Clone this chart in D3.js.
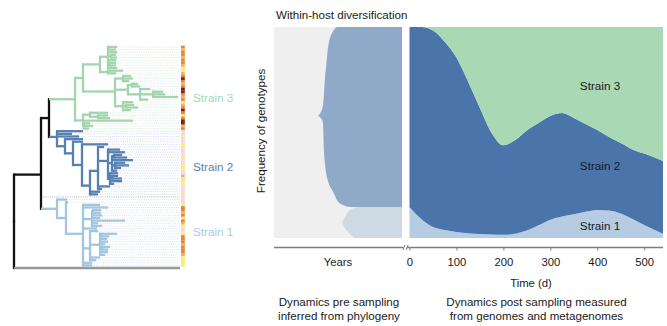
<!DOCTYPE html>
<html><head><meta charset="utf-8">
<script src="https://cdn.jsdelivr.net/npm/d3@7"></script>
<style>
html,body{margin:0;padding:0;background:#fff;}
svg{display:block;font-family:"Liberation Sans",Arial,Helvetica,sans-serif;}
</style></head><body>
<svg id="chart" width="667" height="326"></svg>
<script>
// ---------------- DATA ----------------
// Post-sampling genotype frequencies (stacked, sum = 1)
const days    = [0,25,50,75,100,125,150,175,200,225,250,275,300,325,350,375,400,425,450,475,500,540];
const strain1 = [.147,.09,.052,.038,.029,.023,.019,.016,.015,.02,.035,.06,.087,.102,.113,.124,.133,.13,.116,.09,.062,.02];
const strain2 = [.853,.91,.932,.892,.826,.717,.597,.482,.425,.444,.475,.485,.491,.49,.456,.416,.379,.349,.334,.33,.338,.345];
const strain3 = [0,0,.016,.07,.145,.26,.384,.502,.56,.536,.49,.455,.422,.408,.431,.46,.488,.521,.55,.58,.60,.635];
const dayTicks = [0,100,200,300,400,500];

// Pre-sampling envelopes inferred from phylogeny (years before sampling)
const ancTimes = [-3.94,-3.75,-3.70,-3.66,-3.61,-3.56,-3.47,-3.38,-3.28,-3.14,-3.05,-2.77,-2.44,0];
const ancLo    = [.578,.56,.54,.42,.35,.31,.27,.245,.227,.20,.18,.156,.147,.147];
const ancHi    = [.578,.61,.63,.68,.76,.81,.90,.945,.97,.993,1,1,1,1];
const s1Times  = [-2.80,-2.74,-2.67,-2.53,-2.34,-2.20,-2.06,0];
const s1Lo     = [.073,.06,.045,.03,.01,0,0,0];
const s1Hi     = [.073,.088,.10,.125,.138,.143,.147,.147];

// Phylogeny (Newick, branch lengths)
const cladeStrain3 = "(((((g0:9,g1:8,g2:9,(g3:5,g4:6):3,g5:8,(g6:6,g7:6):2,g8:9):8,(g9:15,g10:8):8):17,((g11:8,g12:10,g13:6):8,((g14:6,g15:8):4,(g16:10,(g17:10,g18:12,g19:25):13,g20:8):12):13,(g21:10,(g22:8,g23:12):3,g24:8):8):32):8,((g25:18,(g26:10,g27:12):8):7,g28:50,(g29:6,g30:9,g31:5):1):8)";
const cladeStrain2 = "(b32:26,b33:15,b34:22,(b35:18,(b36:10,(b37:26,((b38:6,(b39:12,b40:17,((b41:8,b42:13):2,b43:21,(b44:10,b45:14,b46:6):3,b47:5):4,(b48:8,(b49:6,b50:10):2,b51:12,b52:4):2):10,b53:12,b54:4):8,b55:10,b56:8):8):9):8):8)";
const cladeStrain1 = "(l58:10,(l59:2,(l60:17,l61:25,((l62:8,l63:8):1,l64:10,l65:8,l66:33,l67:6,l68:10):9,l69:14,(l70:8,(l71:17,(l72:8,l73:6):1,l74:8,l75:5,(l76:8,l77:6):2,l78:8,l79:5):10,l80:10,l81:6):7,l82:9,l83:9):17):9)";
const newick = "(((" + cladeStrain3 + ":26," + cladeStrain2 + ":8):8,sep:0," + cladeStrain1 + ":16):27,outgroup:166);";

// Tip trait values (0 pink, 1 yellow, 2 light orange, 3 orange, 4 dark red)
const heatStrain3 = [3,2,3,3,2,3,3,2,1,1,2,3,4,3,2,3,4,4,3,2,3,1,2,3,4,3,1,3,4,4,2,3];
const heatStrain2 = [0,0,1,0,0,1,1,0,0,0,1,0,0,1,1,0,0,2,0,1,1,0,0,0,1];
const heatSep     = [0];
const heatStrain1 = [0,0,1,3,3,2,3,1,3,2,1,0,0,1,3,3,3,2,3,3,3,2,1,1,1,1];
const heatColors  = ["#f3d9df","#f8ec7a","#f2b35c","#e4873c","#7e2020"];

const strainNames = ["Strain 1","Strain 2","Strain 3"];

// ---------------- DRAW ----------------
const svg = d3.select("#chart");
const font = "'Liberation Sans',Arial,Helvetica,sans-serif";

// ---- Tree ----
function parseNewick(s){
  let i = 0;
  function node(){
    const n = {children:[]};
    if (s[i] === '('){
      i++;
      do { n.children.push(node()); } while (s[i] === ',' && ++i);
      i++;
    }
    let name = '';
    while (i < s.length && !',():;'.includes(s[i])) name += s[i++];
    n.name = name;
    if (s[i] === ':'){
      i++; let num = '';
      while (i < s.length && !',();'.includes(s[i])) num += s[i++];
      n.length = +num;
    } else n.length = 0;
    if (!n.children.length) delete n.children;
    return n;
  }
  return node();
}
const root = d3.hierarchy(parseNewick(newick));
root.eachBefore(d => { d.dist = d.parent ? d.parent.dist + d.data.length : 0; });
const leaves = root.leaves();
const maxDist = d3.max(leaves, d => d.dist);
const xTree = d3.scaleLinear().domain([0, maxDist]).range([14, 180]);
const yTip = d3.scaleLinear().domain([0, leaves.length - 1]).range([47, 268]);
leaves.forEach((d,i) => { d.idx = i; d.py = yTip(i); });
root.eachAfter(d => { if (d.children) d.py = d3.mean(d.children, c => c.py); });
root.each(d => { d.px = xTree(d.dist); });

function cladeOf(d){
  const names = d.leaves().map(l => l.data.name[0]);
  const u = Array.from(new Set(names));
  if (u.length === 1){
    if (u[0] === 'g') return "s3";
    if (u[0] === 'b') return "s2";
    if (u[0] === 'l') return "s1";
    return "out";
  }
  return "root";
}
root.each(d => { d.clade = cladeOf(d); });
const branchColor = {s3:"#a2d5ae", s2:"#5680b3", s1:"#a3c5df", root:"#111111", out:"#999999"};
const dotColor = {s3:"#cde8d4", s2:"#c4d1e6", s1:"#cddbea", out:"#999999"};

const gTree = svg.append("g");
const spacing = yTip(1) - yTip(0);
const heatAll = heatStrain3.concat(heatStrain2, heatSep, heatStrain1);
const heatX = xTree(maxDist);

// dotted tip lines
leaves.forEach(l => {
  if (l.data.name === "outgroup") return;
  gTree.append("line")
    .attr("x1", l.px).attr("x2", heatX).attr("y1", l.py).attr("y2", l.py)
    .attr("stroke", l.data.name === "sep" ? "#aaaaaa" : dotColor[l.clade])
    .attr("stroke-width", l.data.name === "sep" ? 0.9 : 0.8)
    .attr("stroke-dasharray", "1,1.2");
});

// branches: one vertical per internal node, one horizontal per child
const bw = 2.3;
root.descendants().filter(d => d.children).forEach(p => {
  const ys = p.children.map(c => c.py);
  gTree.append("path")
    .attr("d", `M${p.px},${d3.min(ys) - bw/2}V${d3.max(ys) + bw/2}`)
    .attr("fill","none").attr("stroke", branchColor[p.clade]).attr("stroke-width", bw);
});
root.descendants().filter(d => d.parent && d.data.name !== "sep").forEach(d => {
  const p = d.parent;
  gTree.append("path")
    .attr("d", `M${p.px},${d.py}H${d.px}`)
    .attr("fill","none").attr("stroke", branchColor[d.clade])
    .attr("stroke-width", d.clade === "out" ? 2.6 : bw);
});

// heatmap column
leaves.forEach(l => {
  const v = heatAll[l.idx];
  if (v === undefined) return;
  gTree.append("rect")
    .attr("x", heatX + 1).attr("y", l.py - spacing/2).attr("width", 3.8).attr("height", spacing + 0.2)
    .attr("fill", heatColors[v]);
});

// tree strain labels
const treeLabelColor = {"Strain 3":"#a5d8b2", "Strain 2":"#5a80b2", "Strain 1":"#a9c9e2"};
const treeLabelY = {"Strain 3":102, "Strain 2":171, "Strain 1":236};
strainNames.forEach(n => {
  svg.append("text").attr("x", 193).attr("y", treeLabelY[n])
    .attr("font-size", "11.7px").attr("fill", treeLabelColor[n]).text(n);
});

// ---- Right chart ----
const yFreq = d3.scaleLinear().domain([0,1]).range([238, 27]);
const xPre = d3.scaleLinear().domain([-6,0]).range([274, 402]);
const xDays = d3.scaleLinear().domain([0,540]).range([409.5, 663]);

// left panel background
svg.append("rect")
  .attr("x", xPre.range()[0]).attr("y", yFreq(1))
  .attr("width", xPre.range()[1] - xPre.range()[0]).attr("height", yFreq(0) - yFreq(1))
  .attr("fill", "#efefef");

const preArea = d3.area()
  .x(d => xPre(d.t)).y0(d => yFreq(d.lo)).y1(d => yFreq(d.hi))
  .curve(d3.curveMonotoneX);
const ancData = ancTimes.map((t,i) => ({t, lo:ancLo[i], hi:ancHi[i]}));
const s1PreData = s1Times.map((t,i) => ({t, lo:s1Lo[i], hi:s1Hi[i]}));
svg.append("path").attr("d", preArea(ancData)).attr("fill", "#8faac8");
svg.append("path").attr("d", preArea(s1PreData)).attr("fill", "#cdd9e3");

// post-sampling stacked areas
const table = days.map((d,i) => ({day:d, "Strain 1":strain1[i], "Strain 2":strain2[i], "Strain 3":strain3[i]}));
const series = d3.stack().keys(strainNames)(table);
const postColors = {"Strain 1":"#b5cce3", "Strain 2":"#4a74aa", "Strain 3":"#a8d8b4"};
const postArea = d3.area()
  .x(d => xDays(d.data.day)).y0(d => yFreq(d[0])).y1(d => yFreq(d[1]))
  .curve(d3.curveMonotoneX);
svg.append("g").selectAll("path").data(series).join("path")
  .attr("d", postArea).attr("fill", d => postColors[d.key]);

// labels in the post panel
const postLabelY = {"Strain 3":90, "Strain 2":170, "Strain 1":230};
strainNames.forEach(n => {
  svg.append("text").attr("x", 600).attr("y", postLabelY[n]).attr("text-anchor","middle")
    .attr("font-size","11.7px").attr("fill","#1a1a1a").text(n);
});

// axes
const axisY = 247.5;
const axisColor = "#7d7d7d";
svg.append("line")
  .attr("x1", xPre.range()[0]).attr("x2", xPre.range()[1] + 1.5)
  .attr("y1", axisY).attr("y2", axisY)
  .attr("stroke", axisColor).attr("stroke-width", 1.3);
const gAx = svg.append("g").attr("transform", `translate(0,${axisY})`)
  .call(d3.axisBottom(xDays).tickValues(dayTicks).tickSize(3).tickSizeOuter(0).tickPadding(7));
gAx.select(".domain").attr("stroke", axisColor).attr("stroke-width", 1.3)
  .attr("d", `M${xDays.range()[0] - 2.5},0H${xDays.range()[1]}`);
gAx.selectAll(".tick line").attr("stroke", axisColor);
gAx.selectAll(".tick text").attr("font-size","11.3px").attr("font-family", font).attr("fill","#1a1a1a");
// break marks
const bx = (xPre.range()[1] + xDays.range()[0]) / 2;
[-1.8, 1.4].forEach(o => {
  svg.append("line")
    .attr("x1", bx + o - 1).attr("x2", bx + o + 1)
    .attr("y1", axisY + 2.5).attr("y2", axisY - 2.5)
    .attr("stroke", axisColor).attr("stroke-width", 1);
});

// texts
const txt = (x, y, s, size, anchor) => svg.append("text").attr("x", x).attr("y", y)
  .attr("font-size", size).attr("text-anchor", anchor || "middle").attr("fill", "#1a1a1a").text(s);
txt(276, 19, "Within-host diversification", "11.6px", "start");
svg.append("text").attr("transform", "translate(265,131) rotate(-90)")
  .attr("text-anchor","middle").attr("font-size","11.6px").attr("fill","#1a1a1a")
  .text("Frequency of genotypes");
txt(xPre(-3), 266, "Years", "11.3px");
txt(531, 287, "Time (d)", "11.3px");
txt(339, 306, "Dynamics pre sampling", "11.6px");
txt(339, 320, "inferred from phylogeny", "11.6px");
txt(536.5, 306, "Dynamics post sampling measured", "11.6px");
txt(536.5, 320, "from genomes and metagenomes", "11.6px");
</script>
</body></html>
